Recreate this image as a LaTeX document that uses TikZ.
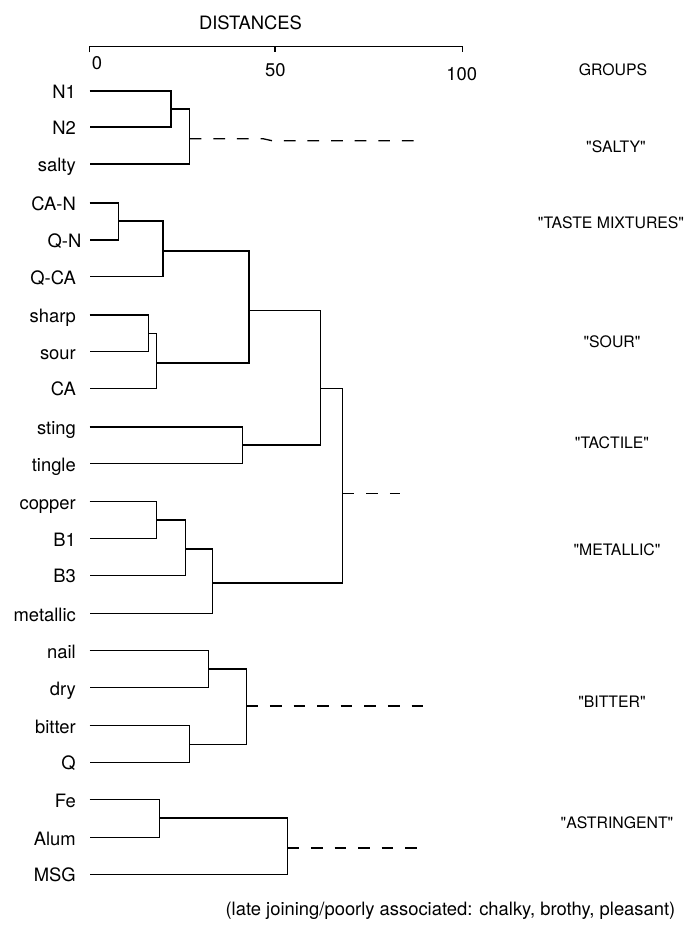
\documentclass[tikz,border=0pt]{standalone}
\usepackage{fontspec}
% plain family: straight double quotes are kept as typed
\newfontfamily\plainfont{TeX Gyre Heros}
\begin{document}
\begin{tikzpicture}[x=1pt,y=-1pt,
  lbl/.style={inner sep=0pt,font=\plainfont\fontsize{18.4}{22}\selectfont},
  leaf/.style={lbl,anchor=base east},
  grp/.style={lbl,anchor=base},
  grpname/.style={grp,font=\plainfont\fontsize{15.8}{19}\selectfont},
  link/.style={line width=1.3pt,line join=miter},
  cut/.style={link,dash pattern=on 11.7pt off 11.9pt}]
\useasboundingbox (0,0) rectangle (688,929);

% distance scale
\node[grp] (title) at (250.5,29.3) {DISTANCES};
\coordinate (a0) at (89.5,46.7);
\coordinate (a50) at (275,46.7);
\coordinate (a100) at (462.7,46.7);
\draw[link] ([yshift=-5.6pt]a0) -- (a0) -- (a100) -- ([yshift=-5.6pt]a100);
\draw[link] (a50) -- ([yshift=-5.6pt]a50);
\node[grp] (t0) at (97,69.3) {0};
\node[grp] (t50) at (275.3,76.6) {50};
\node[grp] (t100) at (461.7,80) {100};

% leaves: label, then start point of the leaf line
\foreach \n/\t/\y/\xe in {
  N1/N1/91/76, N2/N2/127/76, salty/salty/164/76,
  CAN/CA-N/203/76, QN/Q-N/240/81.5, QCA/Q-CA/276.7/76,
  sharp/sharp/315/76, sour/sour/351.7/76, CA/CA/388.3/76,
  sting/sting/427/76, tingle/tingle/463.7/76,
  copper/copper/501.7/76, B1/B1/538.7/76, B3/B3/575.3/76,
  metallic/metallic/613.7/76,
  nail/nail/650.7/76, dry/dry/687.7/76, bitter/bitter/725.7/76,
  Q/Q/762.3/76,
  Fe/Fe/799.7/76, Alum/Alum/837.7/76, MSG/MSG/874.3/76} {
  \node[leaf] (t-\n) at (\xe,\y+7.6) {\t};
  \coordinate (\n) at (89.5,\y);
}

% merge points (x = distance, y = join height)
\coordinate (m1) at (171,109);
\coordinate (m2) at (189.7,138.7);
\coordinate (m3) at (118.3,221);
\coordinate (m4) at (163,251);
\coordinate (m5) at (148.7,333.3);
\coordinate (m6) at (156.3,363);
\coordinate (m7) at (249,310.7);
\coordinate (m8) at (242.3,445);
\coordinate (m9) at (320.3,388.3);
\coordinate (m10) at (156.7,520);
\coordinate (m11) at (185.7,549);
\coordinate (m12) at (212.3,583);
\coordinate (m13) at (342.7,493.3);
\coordinate (m14) at (208.3,669);
\coordinate (m15) at (189.7,744.3);
\coordinate (m16) at (246.3,706);
\coordinate (m17) at (159.3,818);
\coordinate (m18) at (287.3,848);

% tree
\draw[link] (N1) -| (m1) |- (N2);
\draw[link] (m1) -| (m2) |- (salty);
\draw[link] (CAN) -| (m3) |- (QN);
\draw[link] (m3) -| (m4) |- (QCA);
\draw[link] (sharp) -| (m5) |- (sour);
\draw[link] (m5) -| (m6) |- (CA);
\draw[link] (m4) -| (m7) |- (m6);
\draw[link] (sting) -| (m8) |- (tingle);
\draw[link] (m7) -| (m9) |- (m8);
\draw[link] (copper) -| (m10) |- (B1);
\draw[link] (m10) -| (m11) |- (B3);
\draw[link] (m11) -| (m12) |- (metallic);
\draw[link] (m9) -| (m13) |- (m12);
\draw[link] (nail) -| (m14) |- (dry);
\draw[link] (bitter) -| (m15) |- (Q);
\draw[link] (m14) -| (m16) |- (m15);
\draw[link] (Fe) -| (m17) |- (Alum);
\draw[link] (m17) -| (m18) |- (MSG);

% cut-off lines marking the groups
\coordinate (k1) at (263,138.7);
\coordinate (k2) at (272,140.7);
\coordinate (e1) at (415,140.7);
\coordinate (e2) at (400,493.3);
\coordinate (e3) at (423.3,706);
\coordinate (e4) at (416.7,848);
\draw[cut] (m2) -- (k1) -- (k2) -- (e1);
\draw[cut] (m13) -- (e2);
\draw[cut] (m16) -- (e3);
\draw[cut] (m18) -- (e4);

% group names
\node[grpname] (g0) at (613,75.7) {GROUPS};
\node[grpname] (g1) at (616,152.4) {"SALTY"};
\node[grpname] (g2) at (611,228.7) {"TASTE MIXTURES"};
\node[grpname] (g3) at (612,347.7) {"SOUR"};
\node[grpname] (g4) at (612,448.7) {"TACTILE"};
\node[grpname] (g5) at (617,555.7) {"METALLIC"};
\node[grpname] (g6) at (612,707.7) {"BITTER"};
\node[grpname] (g7) at (617,828.7) {"ASTRINGENT"};

\node[grp] (note) at (450.5,915) {(late joining/poorly associated: chalky, brothy, pleasant)};
\end{tikzpicture}
\end{document}
